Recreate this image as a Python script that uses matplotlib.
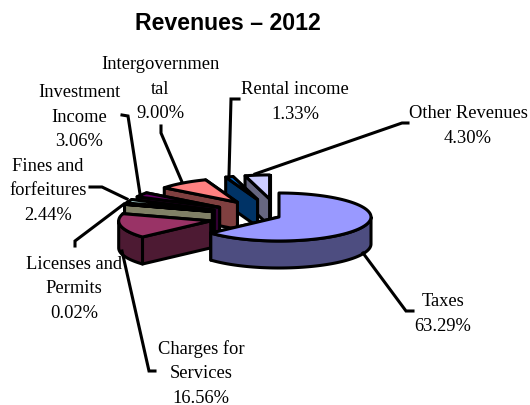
from matplotlib import pyplot as plt
from matplotlib.patches import Polygon
import numpy as np

# shares in percent, clockwise from 12 o'clock
categories = ["Taxes", "Charges for\nServices", "Licenses and\nPermits", "Fines and\nforfeitures",
              "Investment\nIncome", "Intergovernmen\ntal", "Rental income", "Other Revenues"]
values = [63.29, 16.56, 0.02, 2.44, 3.06, 9.00, 1.33, 4.30]
top_colors = ["#9999FF", "#993366", "#FFFFCC", "#CCFFFF", "#660066", "#FF8080", "#0066CC", "#CCCCFF"]
side_colors = ["#4D4D80", "#4D1A33", "#808066", "#668080", "#330033", "#804040", "#003366", "#666680"]

# label centres in pixels, same order as categories
label_pos = [(443, 314), (201, 374), (74, 289), (48, 191), (79, 117), (160, 89), (295, 102), (468, 126)]
# leader lines in pixels, same order as categories
leaders = [
    [(363, 254), (406, 312), (413, 312)],
    [(122, 252), (149, 372), (155, 372)],
    [(124, 205), (75, 242), (75, 247)],
    [(127, 200), (102, 188), (90, 188)],
    [(140, 195), (128, 117), (122, 116)],
    [(182, 183), (161, 134), (161, 127)],
    [(229, 176), (231, 100), (239, 100)],
    [(255, 175), (402, 124), (408, 124)],
]

# pie geometry in pixels
cx, cy = 279, 218
rx, ry = 92, 24
depth = 27
explode = 0.76
line_w = 2.2
line_gap = 24.5


def point(theta, x0, y0):
    return x0 + rx * np.sin(theta), y0 - ry * np.cos(theta)


def arc(t0, t1, x0, y0):
    t = np.linspace(t0, t1, 80)
    return np.column_stack(point(t, x0, y0))


def draw_slice(ax, t0, t1, top, side, explode_it=True):
    mid = (t0 + t1) / 2
    x0, y0 = cx, cy
    if explode_it:
        x0, y0 = point(mid, cx, cy)
        x0 = cx + (x0 - cx) * explode
        y0 = cy + (y0 - cy) * explode
    style = dict(edgecolor="black", linewidth=line_w, joinstyle="round")
    # cut faces, the one further back goes first
    for t in sorted((t0, t1), key=lambda t: point(t, x0, y0)[1]):
        ex, ey = point(t, x0, y0)
        wall = [(x0, y0), (ex, ey), (ex, ey + depth), (x0, y0 + depth)]
        ax.add_patch(Polygon(wall, facecolor=side, **style))
    # outer wall, only the front half of the ellipse shows
    a, b = max(t0, np.pi / 2), min(t1, 3 * np.pi / 2)
    if a < b:
        edge = arc(a, b, x0, y0)
        low = edge[::-1] + [0, depth]
        ax.add_patch(Polygon(np.vstack([edge, low]), facecolor=side, **style))
    # top
    ax.add_patch(Polygon(np.vstack([[(x0, y0)], arc(t0, t1, x0, y0)]), facecolor=top, **style))


fig = plt.figure(figsize=(5.3, 4.06), dpi=100)
ax = fig.add_axes([0, 0, 1, 1])
ax.set_xlim(0, 530)
ax.set_ylim(406, 0)
ax.axis("off")

edges = np.radians(np.concatenate([[0], np.cumsum(values)]) * 3.6)
# back slices first, Taxes last
for i in range(len(values) - 1, -1, -1):
    draw_slice(ax, edges[i], edges[i + 1], top_colors[i], side_colors[i], explode_it=i > 0)

for path in leaders:
    xs, ys = zip(*path)
    ax.plot(xs, ys, color="black", linewidth=line_w, solid_joinstyle="miter")

for name, val, (x, y) in zip(categories, values, label_pos):
    rows = name.split("\n") + [f"{val:.2f}%"]
    for j, row in enumerate(rows):
        ax.text(x, y + (j - (len(rows) - 1) / 2) * line_gap, row, ha="center", va="center",
                family="Liberation Serif", fontsize=13.3, color="black")

ax.text(227.5, 23, "Revenues \u2013 2012", ha="center", va="center", family="Liberation Sans",
        fontsize=16.7, fontweight="bold", color="black")

fig.savefig("out.png", dpi=100)
